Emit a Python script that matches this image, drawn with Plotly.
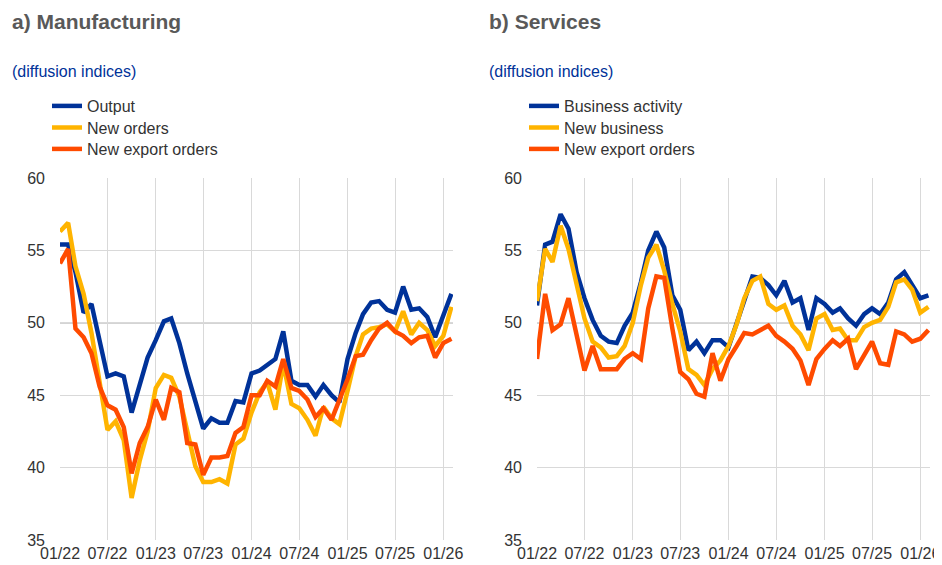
import pandas as pd
import plotly.graph_objects as go

# monthly PMI readings, Jan 2022 - Feb 2026
MONTHS = pd.date_range('2022-01-01', periods=50, freq='MS')

MFG_OUTPUT = [55.4, 55.4, 53.5, 50.7, 51.3, 48.8, 46.3, 46.5, 46.3, 43.8,
              45.8, 47.6, 48.8, 50.1, 50.3, 48.6, 46.5, 44.5, 42.7, 43.4,
              43.1, 43.1, 44.6, 44.5, 46.5, 46.7, 47.1, 47.5, 49.4, 46.0,
              45.7, 45.7, 44.9, 45.7, 45.0, 44.5, 47.5, 49.3, 50.6, 51.4,
              51.5, 50.9, 50.7, 52.5, 50.9, 51.0, 50.4, 49.0, 50.5, 52.0]
MFG_NEW_ORDERS = [56.3, 56.9, 53.9, 52.0, 49.3, 46.1, 42.6, 43.2, 41.9, 37.9,
                  40.5, 42.5, 45.5, 46.4, 46.2, 44.9, 42.4, 40.1, 39.0, 39.0,
                  39.2, 38.9, 41.6, 42.0, 43.8, 45.2, 45.9, 44.0, 47.2, 44.4,
                  44.1, 43.3, 42.2, 44.2, 43.4, 43.0, 45.3, 47.7, 49.2, 49.6,
                  49.7, 49.9, 49.4, 50.8, 49.2, 50.0, 49.5, 48.4, 49.1, 51.1]
MFG_EXPORT = [54.1, 55.1, 49.6, 49.0, 47.9, 45.6, 44.3, 44.0, 42.8, 39.6,
              41.7, 42.8, 44.7, 43.3, 45.5, 45.2, 41.7, 41.6, 39.5, 40.7,
              40.7, 40.8, 42.4, 42.8, 45.0, 45.0, 46.0, 45.6, 47.5, 45.5,
              45.3, 44.7, 43.5, 44.1, 43.3, 44.6, 46.1, 47.7, 47.8, 48.8,
              49.6, 50.0, 49.4, 49.1, 48.6, 49.0, 49.1, 47.6, 48.6, 48.9]

SRV_ACTIVITY = [51.2, 55.4, 55.6, 57.5, 56.5, 53.5, 51.7, 50.2, 49.1, 48.7,
                48.6, 49.8, 50.7, 52.8, 55.0, 56.3, 55.2, 51.9, 50.9, 48.1,
                48.7, 47.9, 48.8, 48.8, 48.3, 50.0, 51.7, 53.2, 53.1, 52.6,
                51.9, 52.9, 51.4, 51.7, 49.5, 51.7, 51.3, 50.7, 51.0, 50.3,
                49.8, 50.6, 51.0, 50.6, 51.4, 53.0, 53.5, 52.6, 51.7, 51.9]
SRV_NEW_BUSINESS = [51.5, 55.1, 54.2, 56.7, 55.1, 52.6, 50.3, 48.7, 48.3, 47.6,
                    47.7, 48.4, 50.0, 52.6, 54.5, 55.4, 53.6, 51.3, 49.4, 46.8,
                    46.4, 45.7, 46.8, 47.4, 48.4, 49.9, 51.7, 52.9, 53.2, 51.3,
                    50.9, 51.2, 49.8, 49.2, 48.1, 50.3, 50.6, 49.5, 49.6, 48.8,
                    48.8, 49.7, 50.0, 50.2, 51.1, 52.8, 53.0, 52.3, 50.7, 51.1]
SRV_EXPORT = [47.5, 52.0, 49.5, 49.9, 51.7, 49.1, 46.7, 48.4, 46.8, 46.8,
              46.8, 47.5, 47.9, 47.5, 51.0, 53.2, 53.1, 49.6, 46.6, 46.1,
              45.1, 44.9, 47.9, 46.0, 47.5, 48.4, 49.3, 49.2, 49.5, 49.8,
              49.1, 48.7, 48.2, 47.4, 45.7, 47.5, 48.2, 48.8, 48.4, 48.9,
              46.8, 47.7, 48.7, 47.2, 47.1, 49.4, 49.2, 48.7, 48.9, 49.5]

TICK_DATES = pd.date_range('2022-01-01', '2026-01-01', freq='6MS')
TICK_TEXT = [d.strftime('%m/%y') for d in TICK_DATES]

BLUE = '#003299'
YELLOW = '#ffb400'
ORANGE = '#ff4b00'
FONT = 'Liberation Sans, Arial, sans-serif'
W, H = 942, 565
OFF = 8  # page body margin shifts the figure by this much
LEGEND_ROWS = [106, 127.5, 149]  # centre of each legend row, px


def px_x(p):
    return (p - OFF) / W


def px_y(p):
    return (H - (p - OFF)) / H


panels = [
    ('a) Manufacturing', 'x', 'y', [60, 453],
     [('Output', MFG_OUTPUT, BLUE), ('New orders', MFG_NEW_ORDERS, YELLOW),
      ('New export orders', MFG_EXPORT, ORANGE)]),
    ('b) Services', 'x2', 'y2', [537, 930],
     [('Business activity', SRV_ACTIVITY, BLUE), ('New business', SRV_NEW_BUSINESS, YELLOW),
      ('New export orders', SRV_EXPORT, ORANGE)]),
]

axis_common = dict(showline=False, zeroline=False, gridcolor='#d9d9d9', gridwidth=1,
                   automargin=False,
                   tickfont=dict(family=FONT, size=16, color='#333333'))

layout = dict(
    width=W, height=H, margin=dict(l=0, r=0, t=0, b=0, autoexpand=False),
    paper_bgcolor='white', plot_bgcolor='white', showlegend=True,
    font=dict(family=FONT, size=16, color='#333333'),
    annotations=[], shapes=[],
)

fig = go.Figure()
n_leg = 0
for title, xa, ya, px_range, series in panels:
    # one single-item legend per series so the rows sit exactly where the reference has them
    for (name, vals, col), row in zip(series, LEGEND_ROWS):
        n_leg += 1
        leg = 'legend' if n_leg == 1 else f'legend{n_leg}'
        fig.add_trace(go.Scatter(
            x=MONTHS, y=vals, name=name, mode='lines', showlegend=True,
            line=dict(color=col, width=4.5), xaxis=xa, yaxis=ya, legend=leg,
        ))
        layout[leg] = dict(x=px_x(px_range[0] - 13), y=px_y(row), xanchor='left', yanchor='middle',
                           bgcolor='rgba(0,0,0,0)', borderwidth=0, visible=True,
                           font=dict(family=FONT, size=16, color='#333333'), itemwidth=30)

    xkey = 'xaxis' if xa == 'x' else 'xaxis2'
    ykey = 'yaxis' if ya == 'y' else 'yaxis2'
    layout[xkey] = dict(axis_common, domain=[px_x(px_range[0]), px_x(px_range[1])], anchor=ya,
                        range=['2022-01-01', '2026-02-07'], tickvals=TICK_DATES,
                        ticktext=TICK_TEXT, showgrid=True, ticklabelstandoff=2)
    layout[ykey] = dict(axis_common, domain=[px_y(540), px_y(178)], anchor=xa,
                        range=[35, 60], dtick=5, showgrid=True, ticklabelstandoff=14)
    left = px_x(px_range[0] - 50)
    layout['annotations'].append(dict(
        text=f'<b>{title}</b>', xref='paper', yref='paper', x=left, y=px_y(22),
        xanchor='left', yanchor='middle', showarrow=False,
        font=dict(family=FONT, size=21, color='#595959')))
    layout['annotations'].append(dict(
        text='(diffusion indices)', xref='paper', yref='paper', x=left, y=px_y(71),
        xanchor='left', yanchor='middle', showarrow=False,
        font=dict(family=FONT, size=16, color=BLUE)))
    layout['shapes'].append(dict(type='line', xref=f'{xa} domain', yref=ya,
                                 x0=0, x1=1, y0=50, y1=50,
                                 line=dict(color='#6e6e6e', width=1), layer='below'))

fig.update_layout(**layout)
fig.write_html('out.html')
